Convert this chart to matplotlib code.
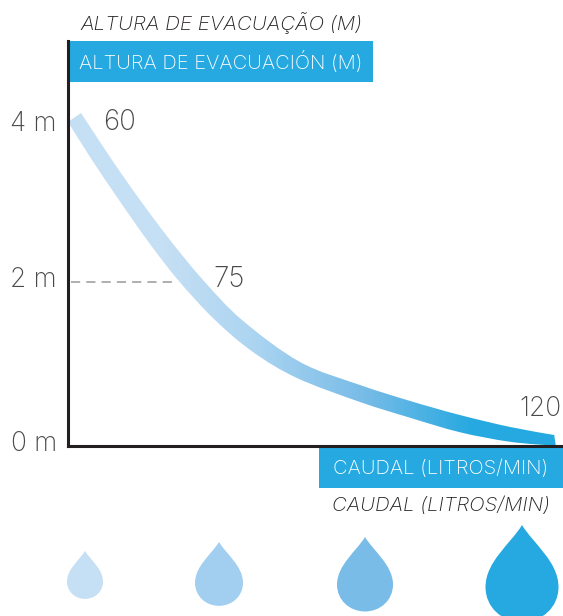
import numpy as np
import matplotlib
matplotlib.use('Agg')
import matplotlib.pyplot as plt
from matplotlib.colors import LinearSegmentedColormap
from matplotlib.patches import PathPatch, Rectangle
from matplotlib.path import Path
from matplotlib.transforms import ScaledTranslation

# curve band: caudal (l/min) and altura (m)
upper_q = [60.75, 64.625, 68.125, 71.875, 76, 80.875, 88.125, 95.625, 101.9, 108.1, 114.4, 119.9]
upper_h = [4.10, 3.5125, 3.0125, 2.5125, 2.0125, 1.5125, 0.9875, 0.70, 0.50, 0.325, 0.175, 0.075]
lower_q = [59.125, 62.125, 65.5, 69, 72.875, 77.5, 82.25, 87.75, 95.625, 101.9, 108.1, 114.4, 120.1]
lower_h = [3.9875, 3.5125, 3.0125, 2.5125, 2.0125, 1.5125, 1.1125, 0.7875, 0.4875, 0.29, 0.11, -0.01, -0.06]

# gradient along the band
grad_q = [60, 71, 82, 96, 110, 121]
grad_colors = ['#C5DFF4', '#C5DFF4', '#ADD5F1', '#79BCE8', '#25A9E0', '#25A9E0']

point_q = [60, 75, 120]
point_h = [4, 2, 0]
point_labels = ['60', '75', '120']
y_ticks = [0, 2, 4]
y_tick_labels = ['0 m', '2 m', '4 m']

drop_x = [85, 219, 365, 522]
drop_top = [551, 542, 537, 525]
drop_w = [36, 48, 56, 73]
drop_colors = ['#C5DFF4', '#A2CEEF', '#79BCE8', '#25A9E0']

BLUE = '#25A9E0'
DARK = '#231F20'
TXT = '#4A4A4A'
FONT = ['Inter', 'DejaVu Sans']
plt.rcParams['font.family'] = FONT

W, H = 563, 616
fig = plt.figure(figsize=(W / 100, H / 100), dpi=100)

# pixel layer for the boxes, titles and drops
bg = fig.add_axes([0, 0, 1, 1])
bg.set_xlim(0, W)
bg.set_ylim(H, 0)
bg.axis('off')

ax = fig.add_axes([68 / W, (H - 446) / H, (W - 68) / W, 405 / H])
ax.patch.set_alpha(0)


def smooth(px, py):
    # catmull-rom through the read points, as bezier segments
    p = np.column_stack([px, py])
    p = np.vstack([p[0], p, p[-1]])
    verts = []
    for i in range(1, len(p) - 2):
        verts += [p[i] + (p[i + 1] - p[i - 1]) / 6, p[i + 1] - (p[i + 2] - p[i]) / 6, p[i + 1]]
    return verts


up = smooth(upper_q, upper_h)
low = smooth(lower_q[::-1], lower_h[::-1])
verts = [(upper_q[0], upper_h[0])] + up + [(lower_q[-1], lower_h[-1])] + low + [(upper_q[0], upper_h[0])]
codes = [Path.MOVETO] + [Path.CURVE4] * len(up) + [Path.LINETO] + [Path.CURVE4] * len(low) + [Path.CLOSEPOLY]
band = PathPatch(Path(verts, codes), fc='none', ec='none', transform=ax.transData)
ax.add_patch(band)

stops = [(q - grad_q[0]) / (grad_q[-1] - grad_q[0]) for q in grad_q]
cmap = LinearSegmentedColormap.from_list('band', list(zip(stops, grad_colors)))
# the band starts a bit left of 60, so the image runs from 59 with the first colour
ramp = np.interp(np.linspace(59, 121, 310), [59, 60, 121], [0, 0, 1]).reshape(1, -1)
im = ax.imshow(ramp, cmap=cmap, aspect='auto', extent=(59, 121, -0.1, 4.2), zorder=1)
im.set_clip_path(band)
ax.set_xlim(59.125, 121)
ax.set_ylim(-0.0625, 5)

ax.plot([59.5, 72.7], [1.99, 1.99], color='#999999', lw=1.1, dashes=(6, 4), zorder=0.5)

for s in ['top', 'right']:
    ax.spines[s].set_visible(False)
for s in ['left', 'bottom']:
    ax.spines[s].set_linewidth(2.2)
    ax.spines[s].set_color(DARK)
    ax.spines[s].set_zorder(3)
ax.set_xticks([])
ax.set_yticks(y_ticks)
ax.set_yticklabels(y_tick_labels, fontsize=19, color=TXT, fontweight='light')
ax.tick_params(axis='y', length=0, pad=8)
# the 2 m label sits a little above its dashed line
lab2 = ax.get_yticklabels()[1]
lab2.set_transform(lab2.get_transform() + ScaledTranslation(0, 4 / 100, fig.dpi_scale_trans))

offsets = [(20, -1), (13, 1), (4.5, 23)]
aligns = ['left', 'left', 'right']
sizes = [20, 20, 19]
for q, h, lab, off, al, fs in zip(point_q, point_h, point_labels, offsets, aligns, sizes):
    ax.annotate(lab, (q, h), xytext=off, textcoords='offset points', fontsize=fs,
                color=TXT, va='center', ha=al, fontweight='light')

bg.add_patch(Rectangle((69, 41), 304, 41, fc=BLUE, ec='none'))
bg.add_patch(Rectangle((319, 448), 244, 40, fc=BLUE, ec='none'))
bg.text(79, 62, 'ALTURA DE EVACUACIÓN (M)', color='white', fontsize=14.5, va='center', fontweight='light')
bg.text(333, 469, 'CAUDAL (LITROS/MIN)', color='white', fontsize=14.5, va='center', fontweight='light')
bg.text(80, 23, 'ALTURA DE EVACUAÇÃO (M)', color=DARK, fontsize=14.8, va='center', style='italic', fontweight='light')
bg.text(332, 506, 'CAUDAL (LITROS/MIN)', color=DARK, fontsize=14.7, va='center', style='italic', fontweight='light')

# one drop of width 1, tip at the origin
drop_v = [(0, 0), (0.15, 0.25), (0.5, 0.5), (0.5, 0.85), (0.5, 1.126), (0.276, 1.33), (0, 1.33),
          (-0.276, 1.33), (-0.5, 1.126), (-0.5, 0.85), (-0.5, 0.5), (-0.15, 0.25), (0, 0)]
drop_c = [Path.MOVETO] + [Path.CURVE4] * 12
for x, top, w, c in zip(drop_x, drop_top, drop_w, drop_colors):
    v = np.array(drop_v) * w + [x, top]
    bg.add_patch(PathPatch(Path(v, drop_c), fc=c, ec='none'))

fig.savefig('out.png', dpi=100)
